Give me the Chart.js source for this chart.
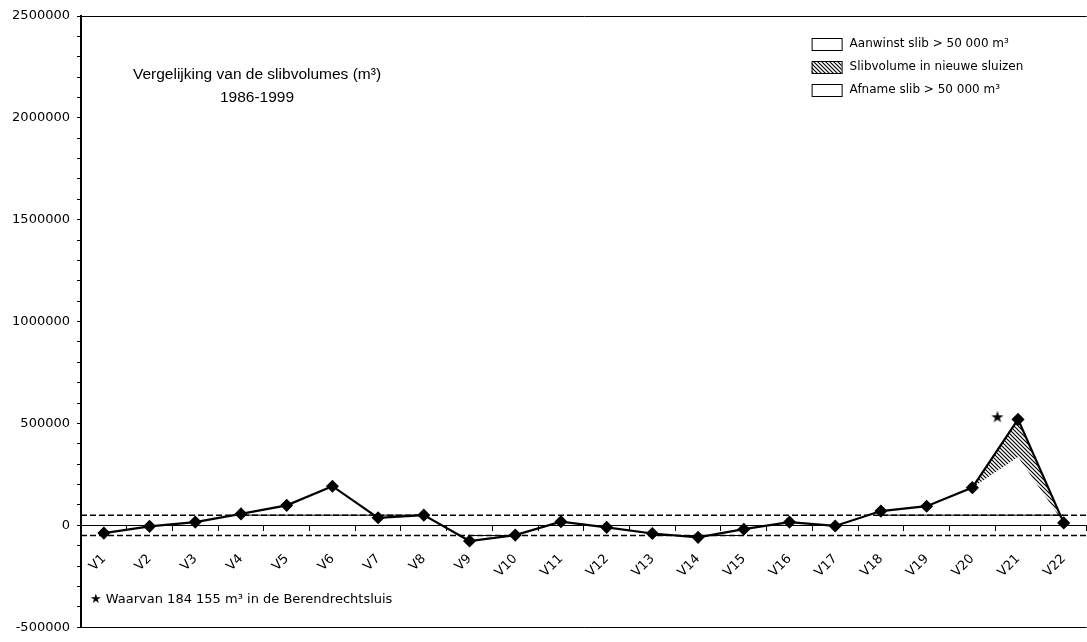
<!DOCTYPE html>
<html lang="nl">
<head>
<meta charset="utf-8">
<title>Vergelijking van de slibvolumes (m³) 1986-1999</title>
<script src="https://cdn.jsdelivr.net/npm/chart.js@4.4.1/dist/chart.umd.min.js"></script>
<style>
  html, body { margin: 0; padding: 0; background: #fff; overflow: hidden; }
  #wrap { position: relative; width: 1087px; height: 642px; overflow: hidden; }
</style>
</head>
<body>
<div id="wrap"><canvas id="slibChart" width="1096" height="642"></canvas></div>
<script>
// Gegevens (m³)
const categorieen = ['V1', 'V2', 'V3', 'V4', 'V5', 'V6', 'V7', 'V8', 'V9', 'V10', 'V11',
  'V12', 'V13', 'V14', 'V15', 'V16', 'V17', 'V18', 'V19', 'V20', 'V21', 'V22'];

const slibvolume = [-38000, -5000, 16000, 56000, 98000, 192000, 37000, 50000, -77000, -48000, 18000,
  -10000, -40000, -59000, -19000, 16000, -3000, 70000, 94000, 185000, 520000, 12000];

// onderrand van het gearceerde deel (zonder de nieuwe sluizen)
const nieuweSluizenOnder = [null, null, null, null, null, null, null, null, null, null, null,
  null, null, null, null, null, null, null, null, 185000, 336000, 12000];

const aanwinstGrens = [null, null, null, 50000, 50000, 50000, 50000, 50000, null, null, null,
  null, null, null, null, null, null, 50000, 50000, 50000, 50000, 50000];

const afnameGrens = [null, null, null, null, null, null, null, null, -50000, -50000, null,
  null, -50000, -50000, -50000, null, null, null, null, null, null, null];

const drempels = [50000, -50000];
const yBereik = [-500000, 2500000];
const sterPunt = { x: 19.55, y: 530000 };

const titelRegels = ['Vergelijking van de slibvolumes (m³)', '1986-1999'];
const legendaLabels = ['Aanwinst slib > 50 000 m³', 'Slibvolume in nieuwe sluizen', 'Afname slib > 50 000 m³'];
const voetnoot = '★ Waarvan 184 155 m³ in de Berendrechtsluis';

const FONT = '"DejaVu Sans", "Liberation Sans", sans-serif';
const TITEL_FONT = '"Liberation Sans", Arial, sans-serif';

const canvas = document.getElementById('slibChart');
const ctx = canvas.getContext('2d');

// Arcering (\\\) voor het volume in de nieuwe sluizen
function maakArcering(s) {
  const c = document.createElement('canvas');
  c.width = s; c.height = s;
  const g = c.getContext('2d');
  g.strokeStyle = '#000';
  g.lineWidth = 1.2;
  g.beginPath();
  g.moveTo(0, 0); g.lineTo(s, s);
  g.moveTo(-1, s - 1); g.lineTo(1, s + 1);
  g.moveTo(s - 1, -1); g.lineTo(s + 1, 1);
  g.stroke();
  return ctx.createPattern(c, 'repeat');
}

function maakSter(size) {
  const c = document.createElement('canvas');
  c.width = size; c.height = size;
  const g = c.getContext('2d');
  g.fillStyle = '#000';
  g.font = `${size}px "DejaVu Sans"`;
  g.textAlign = 'center';
  g.textBaseline = 'middle';
  g.fillText('★', size / 2, size / 2 + 1);
  return c;
}

const arcering = maakArcering(4);

// Titel, legenda en voetnoot binnen het grafiekvlak
const annotaties = {
  id: 'annotaties',
  afterDraw(chart) {
    const { ctx, chartArea: a } = chart;
    ctx.save();
    ctx.fillStyle = '#000';
    ctx.textBaseline = 'middle';

    ctx.font = `15.5px ${TITEL_FONT}`;
    ctx.textAlign = 'center';
    titelRegels.forEach((t, i) => ctx.fillText(t, a.left + 176, a.top + 59 + i * 23));

    ctx.font = `12px ${FONT}`;
    ctx.textAlign = 'left';
    legendaLabels.forEach((lbl, i) => {
      const x = a.right - 275;
      const y = a.top + 28 + i * 23;
      ctx.fillStyle = i === 1 ? arcering : '#fff';
      ctx.fillRect(x, y - 6, 30, 12);
      ctx.strokeStyle = '#000';
      ctx.lineWidth = 1;
      ctx.strokeRect(x + 0.5, y - 5.5, 30, 12);
      ctx.fillStyle = '#000';
      ctx.fillText(lbl, x + 38, y);
    });

    ctx.font = `13px ${FONT}`;
    ctx.fillText(voetnoot, a.left + 9, a.bottom - 28);
    ctx.restore();
  }
};

const drempelData = d => [{ x: -0.5, y: d }, { x: categorieen.length - 0.5, y: d }];

new Chart(canvas, {
  type: 'line',
  data: {
    labels: categorieen,
    datasets: [
      {
        label: 'Slibvolume',
        data: slibvolume,
        borderColor: '#000',
        borderWidth: 2.2,
        pointStyle: 'rectRot',
        pointRadius: 5,
        pointBackgroundColor: '#000',
        pointBorderColor: '#000',
        fill: false,
        tension: 0
      },
      {
        label: legendaLabels[1],
        data: nieuweSluizenOnder,
        borderWidth: 0,
        borderColor: 'transparent',
        pointRadius: 0,
        backgroundColor: arcering,
        fill: { target: 0 }
      },
      {
        label: legendaLabels[0],
        data: aanwinstGrens,
        borderColor: '#000',
        borderWidth: 1,
        pointRadius: 0,
        fill: false
      },
      {
        label: legendaLabels[2],
        data: afnameGrens,
        borderColor: '#000',
        borderWidth: 1,
        pointRadius: 0,
        fill: false
      },
      ...drempels.map(d => ({
        label: 'drempel ' + d,
        data: drempelData(d),
        xAxisID: 'x2',
        borderColor: '#000',
        borderWidth: 1.5,
        borderDash: [6, 3],
        pointRadius: 0,
        fill: false
      })),
      {
        label: 'Berendrechtsluis',
        data: [sterPunt],
        xAxisID: 'x2',
        showLine: false,
        pointStyle: maakSter(16),
        pointRadius: 8
      }
    ]
  },
  options: {
    responsive: false,
    animation: false,
    layout: { padding: { top: 16, bottom: 7, left: 0, right: 1 } },
    plugins: {
      legend: { display: false },
      tooltip: { enabled: false }
    },
    scales: {
      x: {
        type: 'category',
        position: { y: 0 },
        offset: true,
        grid: {
          offset: true,
          drawOnChartArea: false,
          color: '#000',
          tickLength: 5
        },
        border: { display: true, color: '#000', width: 1 },
        ticks: {
          color: '#000',
          font: { family: FONT, size: 13 },
          minRotation: 45,
          maxRotation: 45,
          autoSkip: false,
          padding: 21
        }
      },
      x2: {
        type: 'linear',
        display: false,
        min: -0.5,
        max: categorieen.length - 0.5
      },
      y: {
        min: yBereik[0],
        max: yBereik[1],
        afterFit: scale => { scale.width = 81; },
        ticks: {
          stepSize: 100000,
          autoSkip: false,
          color: '#000',
          padding: 7,
          font: { family: FONT, size: 13 },
          callback: v => (v % 500000 === 0 ? String(v) : '')
        },
        grid: {
          color: c => (c.tick && yBereik.includes(c.tick.value) ? '#000' : 'transparent'),
          tickColor: '#000',
          tickLength: 4
        },
        border: { display: true, color: '#000', width: 2 }
      }
    }
  },
  plugins: [annotaties]
});
</script>
</body>
</html>
